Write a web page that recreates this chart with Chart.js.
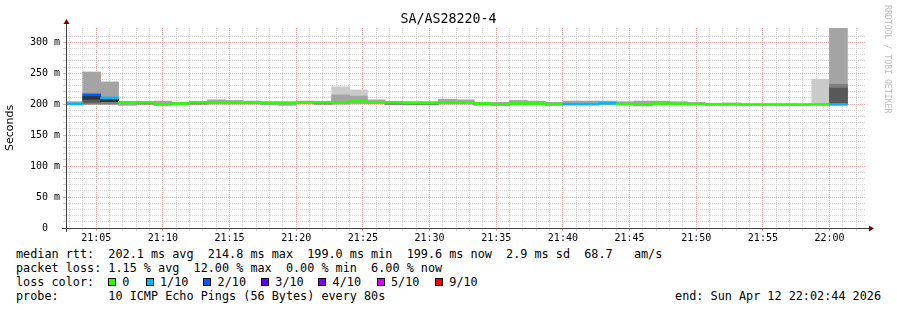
<!DOCTYPE html>
<html>
<head>
<meta charset="utf-8">
<script src="https://cdn.jsdelivr.net/npm/chart.js@4.4.1/dist/chart.umd.min.js"></script>
<style>
body { margin: 0; background: #fff; }
#wrap { position: relative; width: 897px; height: 310px; overflow: hidden; font-family: 'DejaVu Sans Mono', monospace; color: #000; background: #fff; }
#chartBox { position: absolute; left: 0; top: 0; width: 897px; height: 245px; }
#title { position: absolute; left: 0; top: 11px; width: 897px; text-align: center; font-size: 13.3px; line-height: 16px; }
#mark { position: absolute; left: 883px; top: 5px; writing-mode: vertical-rl; font-size: 8.2px; color: #bdbdbd; white-space: pre; }
.row { position: absolute; left: 16px; font-size: 11.8px; line-height: 14px; white-space: pre; }
.sq { position: absolute; width: 8px; height: 8px; border: 1px solid #000; box-sizing: border-box; }
.lbl { position: absolute; font-size: 11.8px; line-height: 14px; white-space: pre; }
</style>
</head>
<body>
<div id="wrap">
  <div id="chartBox"><canvas id="smoke"></canvas></div>
  <div id="title">SA/AS28220-4</div>
  <div id="mark">RRDTOOL / TOBI OETIKER</div>
  <div class="row" style="top:247px">median rtt:  202.1 ms avg  214.8 ms max  199.0 ms min  199.6 ms now  2.9 ms sd  68.7   am/s</div>
  <div class="row" style="top:261px">packet loss: 1.15 % avg  12.00 % max  0.00 % min  6.00 % now</div>
  <div class="row" style="top:275px">loss color:</div>
  <div id="lossLegend"></div>
  <div class="row" style="top:289px">probe:       10 ICMP Echo Pings (56 Bytes) every 80s</div>
  <div class="row" style="top:289px;left:auto;right:16px">end: Sun Apr 12 22:02:44 2026</div>
</div>
<script>
// time window shown on the graph
const windowStart = '21:02:44';
const windowEnd = '22:02:44';

// end time of each 80s sample
const sampleEnds = [
    '21:04:00', '21:05:20', '21:06:40', '21:08:00', '21:09:20', '21:10:40', '21:12:00', '21:13:20',
    '21:14:40', '21:16:00', '21:17:20', '21:18:40', '21:20:00', '21:21:20', '21:22:40', '21:24:00',
    '21:25:20', '21:26:40', '21:28:00', '21:29:20', '21:30:40', '21:32:00', '21:33:20', '21:34:40',
    '21:36:00', '21:37:20', '21:38:40', '21:40:00', '21:41:20', '21:42:40', '21:44:00', '21:45:20',
    '21:46:40', '21:48:00', '21:49:20', '21:50:40', '21:52:00', '21:53:20', '21:54:40', '21:56:00',
    '21:57:20', '21:58:40', '22:00:00', '22:01:20'
];

// median rtt (ms)
const medianRtt = [
    200.5, 215, 210, 203, 203, 200, 201, 203, 203, 203, 203, 202, 202, 203, 203, 203,
    205, 203, 203, 202, 202, 203, 203, 201, 199.5, 201, 201, 200, 200, 200, 201.5, 200,
    199, 201, 200.5, 200, 199.5, 199.5, 199.3, 199.3, 199.3, 199.3, 199.5, 199.6
];

// lost pings out of 10
const lossCount = [
    1, 2, 1, 0, 0, 0, 0, 0, 0, 0, 0, 0, 0, 0, 0, 0,
    0, 0, 0, 0, 0, 0, 0, 0, 0, 0, 0, 0, 1, 1, 1, 0,
    0, 0, 0, 0, 0, 0, 0, 0, 0, 0, 0, 1
];

// smoke layers [low, high] in ms, outer to inner
const smokeLight = sampleEnds.map(() => null);
smokeLight[15] = [200, 228];
smokeLight[16] = [200, 223];
smokeLight[42] = [199, 240];

const smokeMid = [
    [199, 204], [200, 252], [200, 236], [198, 204], [200, 204], [198, 205], [199, 203], [200, 204],
    [200, 207], [200, 206], [200, 205], [199, 204], [198, 204], [201, 205], [200, 204], [200, 215],
    [201, 213], [201, 207], [200, 204], [199, 204], [199, 204], [200, 208], [200, 207], [199, 203],
    [198, 203], [199, 206], [199, 205], [198, 203], [199, 205], [199, 205], [199, 205], [199, 204],
    [198, 205], [199, 205], [199, 204], [199, 203], [199, 201], [199, 202], [199, 200.5], [199, 200.5],
    [199, 200.5], [199, 200.5], null, [200, 323]
];

const smokeDark = sampleEnds.map(() => null);
smokeDark[1] = [200, 214];
smokeDark[2] = [200, 208];
smokeDark[4] = [200, 201.5];
smokeDark[7] = [200, 201.5];
smokeDark[14] = [200, 201.5];
smokeDark[18] = [199.5, 201.5];
smokeDark[19] = [199, 200.5];
smokeDark[20] = [199, 200.5];
smokeDark[23] = [198.5, 200];
smokeDark[32] = [197.5, 199];
smokeDark[43] = [200, 232];

const smokeDarker = sampleEnds.map(() => null);
smokeDarker[1] = [203, 213];
smokeDarker[43] = [200, 226];

const smokeDarkest = sampleEnds.map(() => null);
smokeDarkest[1] = [208, 213];
smokeDarkest[2] = [204, 208];

// loss colour legend
const lossLevels = [0, 1, 2, 3, 4, 5, 9];
const lossLabels = ['0', '1/10', '2/10', '3/10', '4/10', '5/10', '9/10'];
const lossColors = ['#26ff00', '#00b8ff', '#0059ff', '#5e00ff', '#7e00ff', '#dd00ff', '#ff0000'];

// axis labels
const xTickLabels = ['21:05', '21:10', '21:15', '21:20', '21:25', '21:30', '21:35', '21:40', '21:45', '21:50', '21:55', '22:00'];
const yTickValues = [0, 50, 100, 150, 200, 250, 300];
const yTickLabels = ['0  ', '50 m', '100 m', '150 m', '200 m', '250 m', '300 m'];

function toMin(s) {
    const [h, m, sec] = s.split(':').map(Number);
    return (h - 21) * 60 + m + sec / 60;
}

function lossColor(n) {
    let c = lossColors[0];
    lossLevels.forEach((lv, i) => { if (n >= lv) c = lossColors[i]; });
    return c;
}

// legend squares
const legendX = [108, 145.7, 203.3, 261, 318.3, 376.7, 435];
const legendDiv = document.getElementById('lossLegend');
lossLabels.forEach((lab, i) => {
    const sq = document.createElement('div');
    sq.className = 'sq';
    sq.style.left = legendX[i] + 'px';
    sq.style.top = '278px';
    sq.style.background = lossColors[i];
    legendDiv.appendChild(sq);
    const t = document.createElement('div');
    t.className = 'lbl';
    t.style.left = (legendX[i] + 14.3) + 'px';
    t.style.top = '275px';
    t.textContent = lab;
    legendDiv.appendChild(t);
});

const STEP_MIN = 80 / 60;
const MED_HALF = 1.6;
const centers = sampleEnds.map(s => toMin(s) - STEP_MIN / 2);

function rangeSet(label, ranges, color) {
    return {
        label: label,
        data: ranges.map((r, i) => ({ x: centers[i], y: r })).filter(p => p.y),
        backgroundColor: color,
        borderWidth: 0,
        barThickness: 18,
        grouped: false
    };
}

// axes lines and arrows
const axisArrows = {
    id: 'axisArrows',
    afterDraw(chart) {
        const { ctx, chartArea: a } = chart;
        ctx.save();
        ctx.strokeStyle = '#404040';
        ctx.lineWidth = 1;
        ctx.beginPath();
        ctx.moveTo(a.left + 0.5, a.bottom + 4);
        ctx.lineTo(a.left + 0.5, a.top - 5);
        ctx.moveTo(a.left - 4, a.bottom + 0.5);
        ctx.lineTo(a.right + 3, a.bottom + 0.5);
        ctx.stroke();
        ctx.fillStyle = '#800000';
        ctx.beginPath();
        ctx.moveTo(a.left + 0.5, a.top - 9);
        ctx.lineTo(a.left - 2.5, a.top - 4);
        ctx.lineTo(a.left + 3.5, a.top - 4);
        ctx.fill();
        ctx.beginPath();
        ctx.moveTo(a.right + 8, a.bottom + 0.5);
        ctx.lineTo(a.right + 3, a.bottom - 2.5);
        ctx.lineTo(a.right + 3, a.bottom + 3.5);
        ctx.fill();
        ctx.restore();
    }
};

Chart.defaults.font.family = "'DejaVu Sans Mono', monospace";
Chart.defaults.color = '#000';

new Chart(document.getElementById('smoke'), {
    type: 'bar',
    data: {
        datasets: [
            {
                label: 'median',
                data: medianRtt.map((m, i) => ({ x: centers[i], y: [m - MED_HALF, m + MED_HALF] })),
                backgroundColor: ctx => lossColor(lossCount[ctx.dataIndex]),
                borderWidth: 0,
                barThickness: 18,
                grouped: false
            },
            rangeSet('smoke5', smokeDarkest, '#323232'),
            rangeSet('smoke4', smokeDarker, '#585858'),
            rangeSet('smoke3', smokeDark, '#7e7e7e'),
            rangeSet('smoke2', smokeMid, '#a4a4a4'),
            rangeSet('smoke1', smokeLight, '#cacaca')
        ]
    },
    options: {
        responsive: true,
        maintainAspectRatio: false,
        animation: false,
        layout: { padding: { left: 0, right: 31, top: 28, bottom: 0 } },
        plugins: { legend: { display: false }, tooltip: { enabled: false } },
        scales: {
            x: {
                type: 'linear',
                min: toMin(windowStart),
                max: toMin(windowEnd),
                offset: false,
                grid: {
                    offset: false,
                    color: c => (c.tick && c.tick.value % 5 === 0) ? '#f2a6a6' : '#d4d4d4',
                    tickLength: 3
                },
                border: { display: false, dash: [1, 1] },
                afterBuildTicks: scale => {
                    const ticks = [];
                    for (let v = Math.ceil(scale.min); v <= scale.max; v++) ticks.push({ value: v });
                    scale.ticks = ticks;
                },
                afterFit: scale => { scale.height = 17; },
                ticks: {
                    autoSkip: false,
                    maxRotation: 0,
                    minRotation: 0,
                    padding: 1,
                    font: { size: 10 },
                    callback: v => {
                        const i = xTickLabels.findIndex(l => toMin(l + ':00') === v);
                        return i >= 0 ? xTickLabels[i] : '';
                    }
                }
            },
            y: {
                min: 0,
                max: 323,
                grid: {
                    color: c => (c.tick && c.tick.value % 50 === 0) ? '#f2a6a6' : '#d4d4d4',
                    tickLength: 3
                },
                border: { display: false, dash: [1, 1] },
                afterBuildTicks: scale => {
                    scale.ticks = scale.ticks.filter(t => t.value % 10 === 0 && t.value <= 320);
                },
                afterFit: scale => { scale.width = 66; },
                title: {
                    display: true,
                    text: 'Seconds',
                    font: { family: "'DejaVu Sans', sans-serif", size: 11 },
                    padding: { top: 4, bottom: 0 }
                },
                ticks: {
                    stepSize: 10,
                    autoSkip: false,
                    padding: 3,
                    font: { size: 10 },
                    callback: v => {
                        const i = yTickValues.indexOf(v);
                        return i >= 0 ? yTickLabels[i] : '';
                    }
                }
            }
        }
    },
    plugins: [axisArrows]
});
</script>
</body>
</html>
